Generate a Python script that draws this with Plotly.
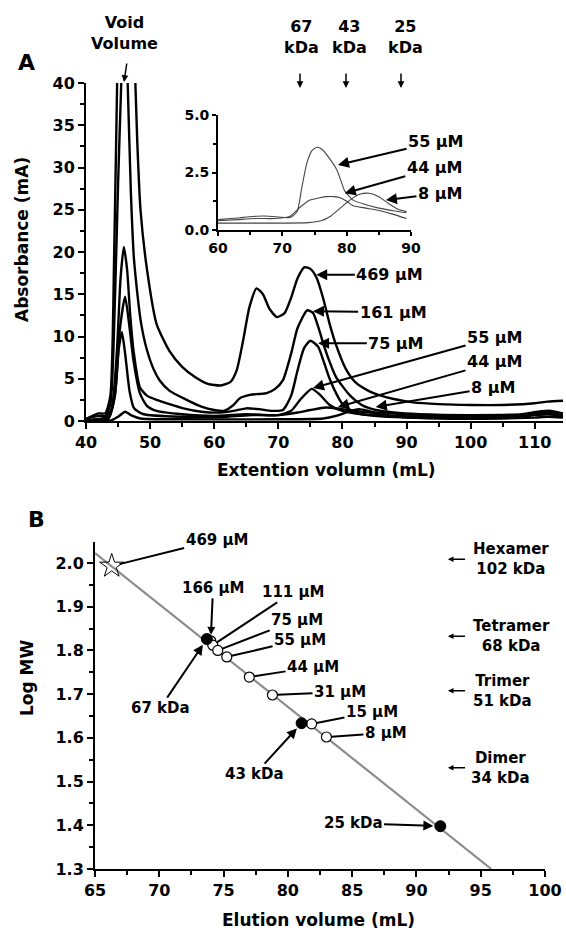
import numpy as np
import plotly.graph_objects as go

W, H = 566, 932

# ---------------- Panel A: elution profiles (mL, mA) ----------------
conc_labels = ["469 µM", "161 µM", "75 µM", "55 µM", "44 µM", "8 µM"]

x469 = [40, 41, 42, 43, 43.8, 44.4, 44.9, 45.5, 46.2, 46.9, 47.5, 48.0, 48.5, 49.5, 51, 53, 55, 57, 59, 61,
        62.5, 63.5, 64.5, 65.5, 66.6, 67.6, 68.6, 69.8, 71, 72, 73, 74.1, 75, 76, 77, 78, 79, 80.5, 82, 84,
        86, 88, 91, 95, 100, 105, 110, 112, 114.4]
y469 = [0.2, 0.6, 0.9, 0.9, 3, 20, 42, 65, 75, 60, 45, 33, 25, 18, 11.5, 8.3, 6.4, 5.2, 4.4, 4.2,
        4.6, 6.0, 9.5, 13.5, 15.7, 15.0, 13.3, 12.3, 12.8, 14.6, 16.9, 18.2, 18.0, 16.9, 14.5, 11.5, 9.0, 6.2, 4.6, 3.6,
        3.0, 2.6, 2.2, 2.0, 1.9, 1.9, 2.1, 2.3, 2.4]

x161 = [40, 42, 43, 43.8, 44.5, 45.0, 45.5, 46.0, 46.5, 47.0, 47.5, 48.5, 49.5, 50.5, 51.5, 53, 55.7, 58, 60, 61.5,
        63, 64, 65.6, 67, 68.2, 69.5, 70.7, 72, 73, 74.5, 75.4, 76.2, 77, 78, 79, 81.2, 83, 85.2, 88, 92,
        100, 108, 110.5, 112.5, 114.4]
y161 = [0.3, 0.6, 0.6, 2, 14, 28, 40, 50, 40, 27, 19, 12, 8.4, 6.2, 4.8, 3.6, 2.5, 1.7, 1.3, 1.2,
        1.9, 2.7, 3.1, 3.2, 3.3, 3.8, 4.8, 8.0, 11.0, 13.1, 12.8, 11.2, 9.2, 7.0, 5.2, 3.0, 1.9, 1.3, 1.0, 0.8,
        0.7, 0.8, 1.1, 1.2, 0.9]

x75 = [40, 43, 44, 44.8, 45.4, 45.9, 46.4, 46.9, 47.4, 48.4, 49.5, 51, 53, 55.2, 58, 61, 63, 65, 67, 69,
       70.7, 72, 73, 74, 75.0, 76.2, 77, 78, 79, 80, 82, 85, 90, 100, 108, 110.5, 112, 114.4]
y75 = [0.1, 0.4, 1.5, 8, 17, 20.6, 18, 12.5, 8.4, 4.0, 3.0, 2.5, 2.0, 1.5, 1.1, 1.0, 1.2, 1.5, 1.4, 1.2,
       1.3, 3.0, 6.0, 8.6, 9.5, 8.8, 7.2, 5.0, 3.3, 2.0, 1.0, 0.6, 0.4, 0.4, 0.5, 0.8, 0.9, 0.6]

x55 = [40, 43.5, 44.5, 45.3, 46.1, 46.8, 47.4, 48.4, 49.5, 51, 55, 60, 65, 70, 72, 73.5, 75.2, 76.5, 78, 80,
       83, 88, 95, 105, 110, 112, 114.4]
y55 = [0.1, 0.4, 3, 11, 14.7, 11, 7.2, 3.3, 1.8, 1.2, 0.8, 0.6, 0.8, 0.7, 1.2, 2.6, 3.8, 3.1, 1.9, 1.2,
       0.8, 0.6, 0.5, 0.5, 0.7, 0.8, 0.6]

x44 = [40, 43.5, 44.5, 45.1, 45.6, 46.1, 46.8, 47.5, 49, 55, 62, 66, 70, 73, 75, 77.4, 80, 83, 87, 92,
       100, 108, 110.5, 112, 114.4]
y44 = [0, 0.3, 3, 8.5, 10.5, 8, 3.5, 1.5, 0.8, 0.5, 0.5, 0.7, 0.7, 1.0, 1.3, 1.6, 1.4, 1.1, 0.9, 0.7,
       0.6, 0.7, 0.9, 1.0, 0.8]

x8 = [40, 44, 45, 46.1, 47, 48.5, 55, 70, 77, 79, 81, 82.5, 84, 86, 89, 95, 105, 110, 112, 114.4]
y8 = [0, 0.1, 0.5, 1.1, 0.7, 0.3, 0.2, 0.2, 0.3, 0.6, 1.1, 1.4, 1.2, 0.8, 0.5, 0.3, 0.3, 0.4, 0.5, 0.4]

# Inset (60-90 mL)
inset_labels = ["55 µM", "44 µM", "8 µM"]
ix55 = [60, 62, 64, 66, 68, 70, 71.3, 72.3, 73.0, 73.8, 74.6, 75.4, 76.2, 77.1, 78.5, 79.7, 81, 83, 85, 87, 89.3]
iy55 = [0.45, 0.5, 0.55, 0.6, 0.6, 0.55, 0.55, 0.8, 1.8, 2.9, 3.45, 3.6, 3.5, 3.2, 2.6, 1.7, 1.3, 1.1, 0.95, 0.85, 0.75]
ix44 = [60, 63, 66, 69, 71.2, 72.8, 74.3, 75.8, 76.9, 78, 79, 80, 81, 83, 85, 87, 89.3]
iy44 = [0.4, 0.45, 0.5, 0.5, 0.6, 1.0, 1.3, 1.4, 1.45, 1.45, 1.4, 1.25, 1.05, 0.95, 0.85, 0.7, 0.5]
ix8 = [60, 65, 70, 74, 76, 77.5, 79, 80.5, 82, 83.5, 85, 86.5, 88, 89.3]
iy8 = [0.3, 0.3, 0.3, 0.32, 0.4, 0.6, 0.95, 1.3, 1.55, 1.6, 1.45, 1.15, 0.9, 0.8]

# ---------------- Panel B: calibration ----------------
std_labels = ["67 kDa", "43 kDa", "25 kDa"]
std_mw = [67, 43, 25]
std_vol = [73.7, 81.07, 91.86]

sample_labels = ["166 µM", "111 µM", "75 µM", "55 µM", "44 µM", "31 µM", "15 µM", "8 µM"]
sample_vol = [74.0, 74.16, 74.55, 75.25, 77.0, 78.8, 81.85, 83.0]
sample_logmw = [1.822, 1.812, 1.80, 1.785, 1.739, 1.698, 1.632, 1.602]

star_label = "469 µM"
star_vol = [66.3]
star_logmw = [1.993]

olig_names = ["Hexamer", "Tetramer", "Trimer", "Dimer"]
olig_mw = [102, 68, 51, 34]

# ------------------------------------------------------
FONT = "DejaVu Sans"
def f(size, color="black"):
    return dict(family=FONT, size=size, color=color, weight="bold")

def px2paper(px, py):
    return px / W, 1 - py / H

fig = go.Figure()

main_curves = [(x469, y469), (x161, y161), (x75, y75), (x55, y55), (x44, y44), (x8, y8)]
for (xs, ys), name in zip(main_curves, conc_labels):
    fig.add_trace(go.Scatter(x=xs, y=ys, mode="lines", name=name, xaxis="x", yaxis="y",
                             line=dict(color="black", width=2.4, shape="spline", smoothing=0.6),
                             hoverinfo="skip"))

inset_curves = [(ix55, iy55), (ix44, iy44), (ix8, iy8)]
for (xs, ys), name in zip(inset_curves, inset_labels):
    fig.add_trace(go.Scatter(x=xs, y=ys, mode="lines", name=name, xaxis="x2", yaxis="y2",
                             line=dict(color="#444", width=1.1, shape="spline", smoothing=0.6),
                             hoverinfo="skip"))

# calibration fit
std_log = np.log10(std_mw)
m, b = np.polyfit(std_vol, std_log, 1)
x_end = (1.3 - b) / m
fit_x = np.array([65.0, x_end])
fig.add_trace(go.Scatter(x=fit_x, y=m * fit_x + b, mode="lines", xaxis="x3", yaxis="y3",
                         line=dict(color="#8c8c8c", width=2.2), hoverinfo="skip"))

fig.add_trace(go.Scatter(x=sample_vol, y=sample_logmw, mode="markers", xaxis="x3", yaxis="y3",
                         marker=dict(symbol="circle", size=10, color="white",
                                     line=dict(color="black", width=1.2)), hoverinfo="skip"))
fig.add_trace(go.Scatter(x=std_vol, y=std_log, mode="markers", xaxis="x3", yaxis="y3",
                         marker=dict(symbol="circle", size=11, color="black",
                                     line=dict(color="black", width=1)), hoverinfo="skip"))
fig.add_trace(go.Scatter(x=star_vol, y=star_logmw, mode="markers", xaxis="x3", yaxis="y3",
                         marker=dict(symbol="star-open", size=18, color="black",
                                     line=dict(color="black", width=1)), hoverinfo="skip"))

axis_common = dict(showline=True, linecolor="black", showgrid=False, zeroline=False,
                   ticks="outside", tickcolor="black", mirror=False, automargin=False)

fig.update_layout(
    template=None,
    width=W, height=H, margin=dict(l=0, r=0, t=0, b=0, autoexpand=False),
    paper_bgcolor="white", plot_bgcolor="white", showlegend=False,
    font=f(16),
    xaxis=dict(**axis_common, domain=[86 / W, 563 / W], range=[40, 114.4], anchor="y",
               tick0=40, dtick=10, linewidth=2, tickwidth=2, ticklen=6, tickfont=f(16),
               minor=dict(dtick=5, ticklen=4, tickwidth=2, ticks="outside", tickcolor="black", showgrid=False)),
    yaxis=dict(**axis_common, domain=[1 - 421 / H, 1 - 83 / H], range=[0, 40], anchor="x",
               tick0=0, dtick=5, linewidth=2, tickwidth=2, ticklen=6, tickfont=f(16),
               minor=dict(dtick=2.5, ticklen=4, tickwidth=2, ticks="outside", tickcolor="black", showgrid=False)),
    xaxis2=dict(**axis_common, domain=[218 / W, 411 / W], range=[60, 90], anchor="y2",
                tick0=60, dtick=10, linewidth=1.8, tickwidth=1.5, ticklen=4, tickfont=f(14),
                minor=dict(dtick=5, ticklen=3, tickwidth=1.5, ticks="outside", tickcolor="black", showgrid=False)),
    yaxis2=dict(**axis_common, domain=[1 - 230 / H, 1 - 115 / H], range=[0, 5], anchor="x2",
                tick0=0, dtick=2.5, tickformat=".1f", linewidth=1.8, tickwidth=1.5, ticklen=4, tickfont=f(14),
                minor=dict(dtick=1.25, ticklen=3, tickwidth=1.5, ticks="outside", tickcolor="black", showgrid=False)),
    xaxis3=dict(**axis_common, domain=[95 / W, 545 / W], range=[65, 100], anchor="y3",
                tick0=65, dtick=5, linewidth=2, tickwidth=2, ticklen=6, tickfont=f(16),
                minor=dict(dtick=2.5, ticklen=4, tickwidth=2, ticks="outside", tickcolor="black", showgrid=False)),
    yaxis3=dict(**axis_common, domain=[1 - 869 / H, 1 - 542 / H], range=[1.3, 2.048], anchor="x3",
                tick0=1.3, dtick=0.1, tickformat=".1f", linewidth=2, tickwidth=2, ticklen=6, tickfont=f(16),
                minor=dict(dtick=0.05, ticklen=4, tickwidth=2, ticks="outside", tickcolor="black", showgrid=False)),
)

ann = []

def ptext(text, px, py, size=16, angle=0, align="center"):
    x, y = px2paper(px, py)
    ann.append(dict(text=text, x=x, y=y, xref="paper", yref="paper", showarrow=False,
                    font=f(size), textangle=angle, align=align, xanchor="center", yanchor="middle"))

def parrow(tip_px, tip_py, dx, dy, width=1.5, size=0.9):
    x, y = px2paper(tip_px, tip_py)
    ann.append(dict(text="", x=x, y=y, xref="paper", yref="paper", ax=dx, ay=dy,
                    showarrow=True, arrowhead=2, arrowsize=size, arrowwidth=width, arrowcolor="black"))

def darrow(text, tip, tail, xr, yr, size=16, head=2, width=2, asize=1.1, standoff=0, startstandoff=0):
    ann.append(dict(text=text, x=tip[0], y=tip[1], ax=tail[0], ay=tail[1], xref=xr, yref=yr,
                    axref=xr, ayref=yr, showarrow=True, arrowhead=head, arrowsize=asize,
                    arrowwidth=width, arrowcolor="black", font=f(size), standoff=standoff,
                    startstandoff=startstandoff))

# Panel letters & axis titles
ptext("A", 26, 63, size=22)
ptext("B", 36, 519, size=22)
ptext("Absorbance (mA)", 22, 240, size=17, angle=-90)
ptext("Extention volumn (mL)", 326, 470, size=17)
ptext("Log MW", 27, 678, size=17, angle=-90)
ptext("Elution volume (mL)", 318, 920, size=17)

# Top markers of panel A
ptext("Void<br>Volume", 125, 33, size=16)
parrow(124, 82, 3, -20)
for lbl, px in zip(["67<br>kDa", "43<br>kDa", "25<br>kDa"], [301, 349, 405]):
    ptext(lbl, px, 37, size=16)
for px in [300, 346, 401]:
    parrow(px, 88, 0, -16)

# Panel A curve labels
darrow(conc_labels[0], (75.9, 17.3), (87.4, 17.3), "x", "y")
darrow(conc_labels[1], (75.4, 13.0), (87.9, 12.9), "x", "y")
darrow(conc_labels[2], (76.2, 9.2), (88.4, 9.2), "x", "y")
darrow(conc_labels[3], (75.4, 3.9), (103.8, 9.9), "x", "y")
darrow(conc_labels[4], (79.3, 1.65), (103.8, 7.0), "x", "y")
darrow(conc_labels[5], (85.2, 1.65), (103.5, 4.0), "x", "y")

# Inset labels
darrow(inset_labels[0], (78.65, 2.83), (93.9, 3.83), "x2", "y2")
darrow(inset_labels[1], (79.7, 1.6), (93.7, 2.7), "x2", "y2")
darrow(inset_labels[2], (86.1, 1.3), (94.5, 1.6), "x2", "y2")

# Panel B labels
darrow(star_label, (star_vol[0], star_logmw[0]), (74.5, 2.053), "x3", "y3", size=15, head=0, standoff=8)
label_pos = [(74.18, 1.943), (80.4, 1.934), (80.7, 1.870), (80.95, 1.824),
             (81.96, 1.762), (84.06, 1.705), (86.54, 1.659), (87.63, 1.611)]
for i, (lbl, vx, vy) in enumerate(zip(sample_labels, sample_vol, sample_logmw)):
    darrow(lbl, (vx, vy), label_pos[i], "x3", "y3", size=15,
           head=2 if i == 0 else 0, standoff=6 if i == 0 else 5, asize=0.8)
std_text = [(70.06, 1.668), (77.44, 1.517), (85.07, 1.405)]
for lbl, vx, vy, tp in zip(std_labels, std_vol, std_log, std_text):
    darrow(lbl, (vx, vy), tp, "x3", "y3", size=15, head=2, standoff=7, asize=1.0)

# Oligomer markers
olig_text_px = [511, 511, 502, 500]
for name, mw, tpx in zip(olig_names, olig_mw, olig_text_px):
    lm = np.log10(mw)
    ann.append(dict(text="", x=92.45, y=lm, ax=93.9, ay=lm, xref="x3", yref="y3", axref="x3", ayref="y3",
                    showarrow=True, arrowhead=2, arrowsize=0.7, arrowwidth=1.6, arrowcolor="black"))
    ann.append(dict(text=f"{name}<br>{mw} kDa", x=65 + (tpx - 95) / 12.857, y=lm, xref="x3", yref="y3",
                    showarrow=False, font=f(15), align="center", xanchor="center", yanchor="middle"))

fig.update_layout(annotations=ann)
fig.write_html("out.html", config={"displayModeBar": False},
               post_script="document.body.style.margin='0';document.body.style.padding='0';"
                           "document.body.style.overflow='hidden';")
